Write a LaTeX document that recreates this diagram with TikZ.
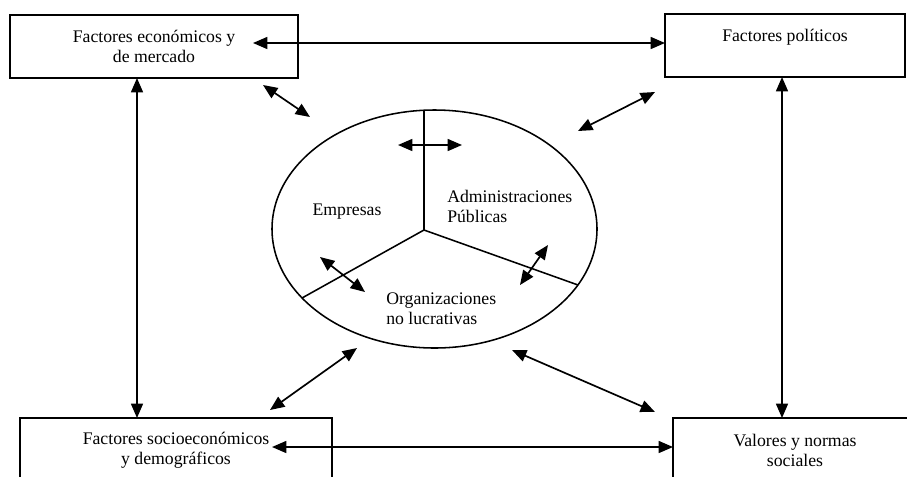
\documentclass[tikz,border=0pt]{standalone}
\usepackage{fontspec}
\setmainfont{Liberation Serif}
\usetikzlibrary{arrows.meta,shapes.geometric}
\begin{document}
\begin{tikzpicture}[x=0.025cm,y=-0.025cm,
  box/.style={draw,line width=1.3pt,rectangle,inner sep=0pt,align=center,
    font=\fontsize{12.6}{14.2}\selectfont},
  lbl/.style={inner sep=0pt,font=\fontsize{12.6}{14.2}\selectfont},
  biarrow/.style={line width=1.2pt,{Triangle[length=0.36cm,width=0.3cm]}-{Triangle[length=0.36cm,width=0.3cm]}},
  spoke/.style={line width=1.1pt}]
\useasboundingbox (0,0) rectangle (907,476);
\clip (0,0) rectangle (907,476);
\fill[white] (0,0) rectangle (907,476);
% boxes
\node[box,minimum width=288*0.025cm,minimum height=63*0.025cm] (eco) at (154,46.5)
  {Factores económicos y\\de mercado};
\node[box,minimum width=240*0.025cm,minimum height=63*0.025cm] (pol) at (785,45.5)
  {Factores políticos\\\mbox{}};
\node[box,minimum width=312*0.025cm,minimum height=64*0.025cm] (soc) at (176,450)
  {Factores socioeconómicos\\y demográficos};
\node[box,minimum width=244*0.025cm,minimum height=64*0.025cm] (val) at (795,450)
  {Valores y normas\\sociales};
% ellipse
\node[draw,ellipse,line width=1.1pt,minimum width=325*0.025cm,minimum height=238*0.025cm,inner sep=0pt] (org) at (434.5,229) {};
\coordinate (c) at (424,230);
\coordinate (stop) at (424,110);
\coordinate (sl) at (302,298);
\coordinate (sr) at (578,285);
\draw[spoke] (stop) -- (c);
\draw[spoke] (c) -- (sl);
\draw[spoke] (c) -- (sr);
% sector labels
\node[lbl] (emp) at (347,212) {Empresas};
\node[lbl,anchor=west,align=left] (adm) at (447,206) {Administraciones\\Públicas};
\node[lbl,anchor=west,align=left] (onl) at (386,309) {Organizaciones\\no lucrativas};
% outer arrow ends
\coordinate (a1) at (253,43);  \coordinate (a2) at (665,43);
\coordinate (b1) at (272,447); \coordinate (b2) at (673,447);
\coordinate (l1) at (137,78);  \coordinate (l2) at (137,418);
\coordinate (r1) at (782,77);  \coordinate (r2) at (782,418);
\coordinate (d1) at (263,85);  \coordinate (d2) at (310,117);
\coordinate (e1) at (578,131); \coordinate (e2) at (655,92);
\coordinate (f1) at (270,410); \coordinate (f2) at (357,348);
\coordinate (g1) at (512,350); \coordinate (g2) at (655,412);
\draw[biarrow] (a1) -- (a2);
\draw[biarrow] (b1) -- (b2);
\draw[biarrow] (l1) -- (l2);
\draw[biarrow] (r1) -- (r2);
\draw[biarrow] (d1) -- (d2);
\draw[biarrow] (e1) -- (e2);
\draw[biarrow] (f1) -- (f2);
\draw[biarrow] (g1) -- (g2);
% inner arrows
\coordinate (h1) at (398,145); \coordinate (h2) at (462,145);
\coordinate (i1) at (320,257); \coordinate (i2) at (365,292);
\coordinate (j1) at (548,245); \coordinate (j2) at (520,285);
\draw[biarrow] (h1) -- (h2);
\draw[biarrow] (i1) -- (i2);
\draw[biarrow] (j1) -- (j2);
\end{tikzpicture}
\end{document}
